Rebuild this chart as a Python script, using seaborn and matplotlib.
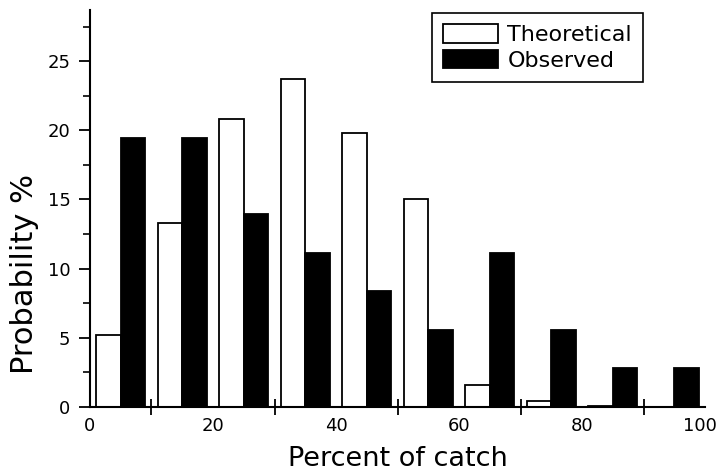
import numpy as np
import pandas as pd
import matplotlib
matplotlib.use("Agg")
import matplotlib.pyplot as plt
import matplotlib.transforms as mtransforms
import seaborn as sns
from matplotlib.ticker import MultipleLocator, FixedLocator

bin_centers = [5, 15, 25, 35, 45, 55, 65, 75, 85, 95]
theoretical = [5.2, 13.3, 20.85, 23.7, 19.8, 15.05, 1.6, 0.45, 0.1, 0.03]
observed = [19.45, 19.45, 13.95, 11.15, 8.4, 5.6, 11.15, 5.6, 2.8, 2.8]
series_names = ["Theoretical", "Observed"]
x_tick_labels = ["0", "20", "40", "60", "80", "100"]

df = pd.DataFrame({
    "bin": bin_centers * 2,
    "value": theoretical + observed,
    "series": [series_names[0]] * len(bin_centers) + [series_names[1]] * len(bin_centers),
})

sns.set_style("ticks")
plt.rcParams["font.family"] = ["DejaVu Sans"]
plt.rcParams["text.color"] = "black"
plt.rcParams["axes.labelcolor"] = "black"
plt.rcParams["xtick.color"] = "black"
plt.rcParams["ytick.color"] = "black"
plt.rcParams["axes.edgecolor"] = "black"

fig = plt.figure(figsize=(7.21, 4.72), dpi=100)
ax = fig.add_axes([0.1248, 0.1377, 0.978 - 0.1248, 0.979 - 0.1377])

sns.barplot(data=df, x="bin", y="value", hue="series", native_scale=True,
            palette={"Theoretical": "white", "Observed": "black"},
            hue_order=series_names, width=0.8, dodge=True, gap=0,
            edgecolor="black", linewidth=1.3, errorbar=None, ax=ax)

ax.set_xlim(0, 100)
ax.set_ylim(0, 28.7)
sns.despine(ax=ax)
for s in ["left", "bottom"]:
    ax.spines[s].set_linewidth(1.5)
    ax.spines[s].set_color("black")

ax.xaxis.set_major_locator(FixedLocator([0, 20, 40, 60, 80, 100]))
ax.set_xticklabels(x_tick_labels)
ax.xaxis.set_minor_locator(FixedLocator([10, 30, 50, 70, 90]))
ax.tick_params(axis="x", which="major", length=0, pad=7, labelsize=13, colors="black")
ax.tick_params(axis="x", which="minor", direction="inout", length=11, width=1.3, colors="black")

ax.yaxis.set_major_locator(MultipleLocator(5))
ax.yaxis.set_minor_locator(MultipleLocator(2.5))
ax.tick_params(axis="y", which="major", length=8, width=1.3, labelsize=13, pad=6, colors="black")
ax.tick_params(axis="y", which="minor", length=5, width=1.2, colors="black")

last = ax.get_xticklabels()[-1]
last.set_transform(last.get_transform() +
                   mtransforms.ScaledTranslation(-4 / 72, 0, fig.dpi_scale_trans))

ax.set_xlabel("Percent of catch", fontsize=19.5, labelpad=8, color="black")
ax.set_ylabel("Probability %", fontsize=22, color="black")
ax.yaxis.set_label_coords(-0.083, 0.335)

handles, labels = ax.get_legend_handles_labels()
leg = ax.legend(handles, labels, loc="upper right", bbox_to_anchor=(0.899, 0.992),
                frameon=True, fancybox=False, edgecolor="black", framealpha=1,
                fontsize=16, handlelength=2.5, handleheight=0.9, handletextpad=0.4,
                borderpad=0.5, labelspacing=0.22, borderaxespad=0.0)
leg.get_frame().set_linewidth(1.2)
for t in leg.get_texts():
    t.set_color("black")

fig.savefig("out.png", dpi=100)
